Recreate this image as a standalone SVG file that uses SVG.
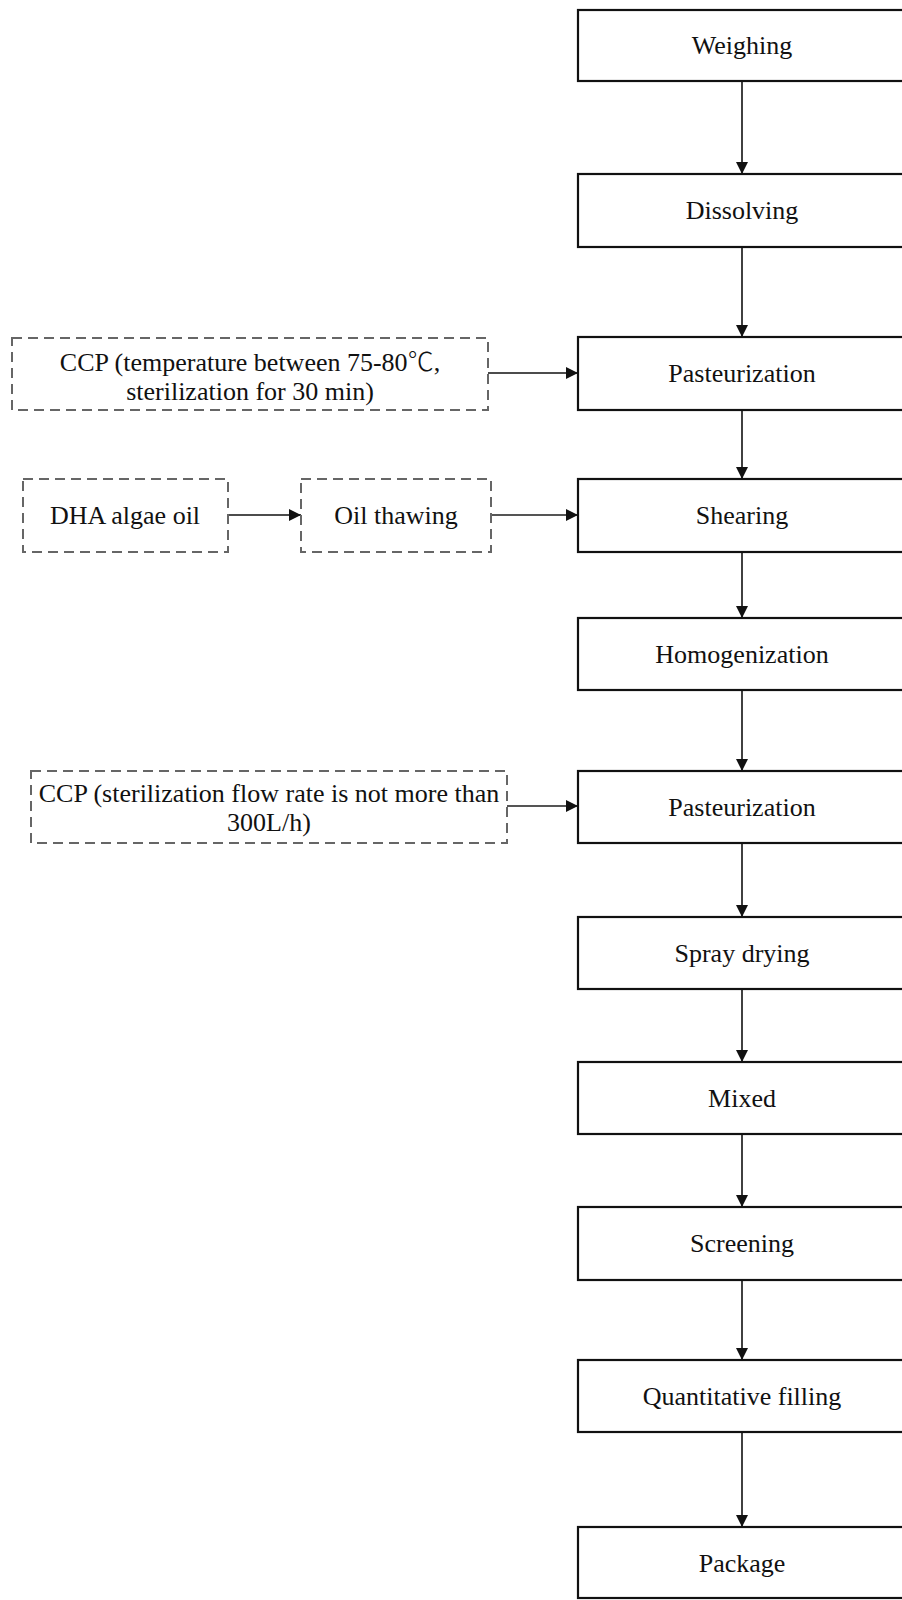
<svg xmlns="http://www.w3.org/2000/svg" width="902" height="1600" viewBox="0 0 902 1600">
<style>
text{font-family:"Liberation Serif","DejaVu Serif","Noto Sans CJK SC",serif;font-size:26px;fill:#111;text-anchor:middle}
.cjk{font-family:"Noto Sans CJK SC","Liberation Serif",sans-serif;font-weight:300}
.box{fill:#fff;stroke:#111;stroke-width:2.2}
.dash{fill:#fff;stroke:#666;stroke-width:2;stroke-dasharray:10 6}
.c{stroke:#111;stroke-width:1.6;fill:none;marker-end:url(#ah)}
.g{stroke:#555;stroke-width:1.8;fill:none;marker-end:url(#ah)}
</style>
<defs>
<marker id="ah" viewBox="0 0 10 10" refX="10" refY="5" markerWidth="12" markerHeight="12" markerUnits="userSpaceOnUse" orient="auto">
<path d="M0,0 L10,5 L0,10 z" fill="#111"/>
</marker>
</defs>
<rect width="902" height="1600" fill="#fff"/>
<g id="connectors">
<line class="c" x1="742" y1="81" x2="742" y2="174"/>
<line class="c" x1="742" y1="247" x2="742" y2="337"/>
<line class="c" x1="742" y1="410" x2="742" y2="479"/>
<line class="c" x1="742" y1="552" x2="742" y2="618"/>
<line class="c" x1="742" y1="690" x2="742" y2="771"/>
<line class="c" x1="742" y1="843" x2="742" y2="917"/>
<line class="c" x1="742" y1="989" x2="742" y2="1062"/>
<line class="c" x1="742" y1="1134" x2="742" y2="1207"/>
<line class="c" x1="742" y1="1280" x2="742" y2="1360"/>
<line class="c" x1="742" y1="1432" x2="742" y2="1527"/>
<line class="c" x1="488" y1="373" x2="578" y2="373"/>
<line class="c" x1="228" y1="515" x2="301" y2="515"/>
<line class="g" x1="491" y1="515" x2="578" y2="515"/>
<line class="g" x1="507" y1="806" x2="578" y2="806"/>
</g>
<g id="weighing"><rect class="box" x="578" y="10" width="330" height="71"/><text x="742" y="54">Weighing</text></g>
<g id="dissolving"><rect class="box" x="578" y="174" width="330" height="73"/><text x="742" y="219">Dissolving</text></g>
<g id="pasteurization1"><rect class="box" x="578" y="337" width="330" height="73"/><text x="742" y="382">Pasteurization</text></g>
<g id="shearing"><rect class="box" x="578" y="479" width="330" height="73"/><text x="742" y="524">Shearing</text></g>
<g id="homogenization"><rect class="box" x="578" y="618" width="330" height="72"/><text x="742" y="663">Homogenization</text></g>
<g id="pasteurization2"><rect class="box" x="578" y="771" width="330" height="72"/><text x="742" y="816">Pasteurization</text></g>
<g id="spray-drying"><rect class="box" x="578" y="917" width="330" height="72"/><text x="742" y="962">Spray drying</text></g>
<g id="mixed"><rect class="box" x="578" y="1062" width="330" height="72"/><text x="742" y="1107">Mixed</text></g>
<g id="screening"><rect class="box" x="578" y="1207" width="330" height="73"/><text x="742" y="1252">Screening</text></g>
<g id="quantitative-filling"><rect class="box" x="578" y="1360" width="330" height="72"/><text x="742" y="1405">Quantitative filling</text></g>
<g id="package"><rect class="box" x="578" y="1527" width="330" height="71"/><text x="742" y="1572">Package</text></g>
<g id="ccp1"><rect class="dash" x="12" y="338" width="476" height="72"/><text x="250" y="371">CCP (temperature between 75-80<tspan class="cjk">℃</tspan>,</text><text x="250" y="400">sterilization for 30 min)</text></g>
<g id="dha-algae-oil"><rect class="dash" x="23" y="479" width="205" height="73"/><text x="125" y="524">DHA algae oil</text></g>
<g id="oil-thawing"><rect class="dash" x="301" y="479" width="190" height="73"/><text x="396" y="524">Oil thawing</text></g>
<g id="ccp2"><rect class="dash" x="31" y="771" width="476" height="72"/><text x="269" y="802">CCP (sterilization flow rate is not more than</text><text x="269" y="831">300L/h)</text></g>
</svg>
